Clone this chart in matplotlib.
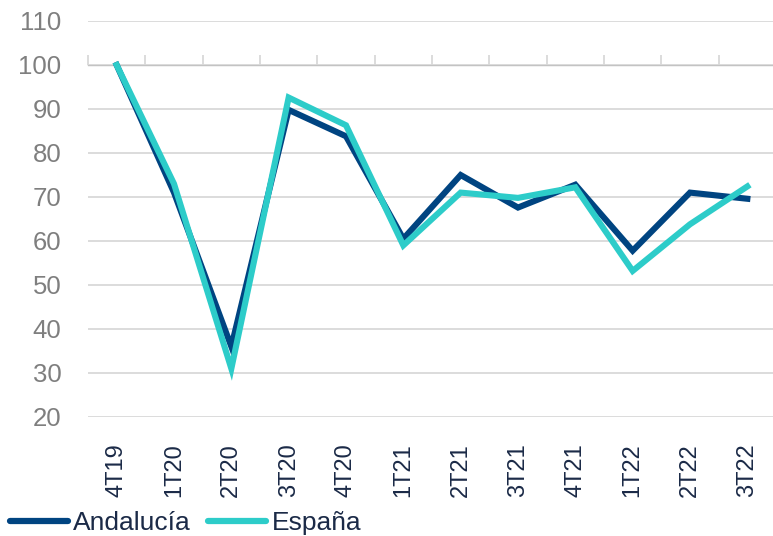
import numpy as np
import matplotlib
matplotlib.use("Agg")
import matplotlib.pyplot as plt
from matplotlib.lines import Line2D

plt.rcParams['font.family'] = ['Liberation Sans', 'DejaVu Sans']

# data (index, 4T19 = 100)
quarters = ['4T19', '1T20', '2T20', '3T20', '4T20', '1T21',
            '2T21', '3T21', '4T21', '1T22', '2T22', '3T22']
andalucia = [100, 71, 36, 89.8, 83.8, 60.5, 75, 67.6, 72.8, 57.8, 71, 69.6]
espana = [100, 73, 31, 92.6, 86.3, 59, 71, 69.8, 72.2, 53.2, 63.8, 72.4]
yticks = [20, 30, 40, 50, 60, 70, 80, 90, 100, 110]

navy = '#004481'
cyan = '#2dccc9'
grid_col = '#d9d9d9'

fig = plt.figure(figsize=(7.73, 5.36), dpi=100)
W, H = 773, 536
ax = fig.add_axes([88 / W, 1 - 417 / H, 688 / W, 396 / H])

x = np.arange(len(quarters))
ax.plot(x, andalucia, color=navy, lw=4.4, solid_joinstyle='miter', zorder=3)
ax.plot(x, espana, color=cyan, lw=4.4, solid_joinstyle='miter', zorder=4)

ax.set_xlim(-0.5, len(quarters) - 0.5)
ax.set_ylim(yticks[0], yticks[-1])
ax.set_yticks(yticks)
ax.set_xticks(x)
ax.set_xticklabels(quarters, rotation=90, fontsize=17, color='#1b2a47')
ax.tick_params(axis='x', length=0, pad=19)
ax.tick_params(axis='y', length=0, pad=19, labelsize=18.5, labelcolor='#7f7f7f')
ax.yaxis.grid(True, color=grid_col, lw=1.3)
ax.set_axisbelow(True)
for s in ax.spines.values():
    s.set_visible(False)

# category axis crosses at 100
cross = (100 - yticks[0]) / (yticks[-1] - yticks[0])
sec = ax.secondary_xaxis(cross)
sec.set_xticks(np.arange(-0.5, len(quarters), 1))
sec.set_xticklabels([])
sec.tick_params(axis='x', length=7, width=1.3, color=grid_col, direction='out')
sec.spines['bottom'].set_color(grid_col)
sec.spines['bottom'].set_linewidth(1.3)

handles = [Line2D([], [], color=navy, lw=4.5, solid_capstyle='round'),
           Line2D([], [], color=cyan, lw=4.5, solid_capstyle='round')]
fig.legend(handles, ['Andalucía', 'España'], loc='center left',
           bbox_to_anchor=(10 / W, 1 - 523 / H), ncol=2, frameon=False,
           fontsize=19, handlelength=2.2, handletextpad=0.2,
           columnspacing=0.65, borderpad=0, borderaxespad=0, labelcolor='#1b2a47')

fig.savefig('out.png', dpi=100)
